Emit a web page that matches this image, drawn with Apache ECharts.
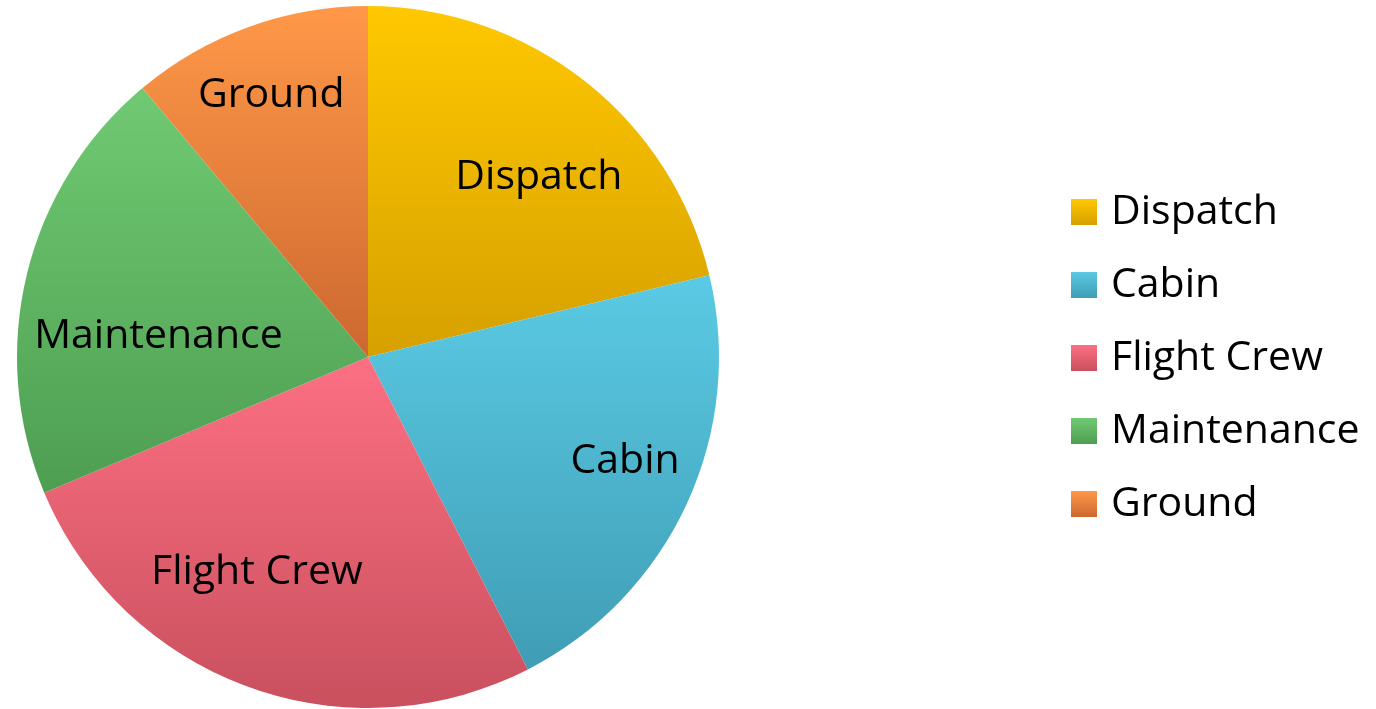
<!DOCTYPE html>
<html>
<head>
<meta charset="utf-8">
<script src="https://cdn.jsdelivr.net/npm/echarts@6/dist/echarts.min.js"></script>
<style>html,body{margin:0;padding:0;background:#fff;}#c{width:1376px;height:709px;}</style>
</head>
<body>
<div id="c"></div>
<script>
const categories = ['Dispatch', 'Cabin', 'Flight Crew', 'Maintenance', 'Ground'];
const values = [21.25, 21.2, 26.2, 20.2, 11.1];
const topColors = ['#FFC800', '#5BCAE4', '#FC7083', '#70CA72', '#FF9848'];
const bottomColors = ['#D6A000', '#3F9DB5', '#C9505E', '#4E9E52', '#CC6830'];

const CX = 368, CY = 357, R = 351;
// label placement (fraction of radius, angle clockwise from top in degrees)
const labelPolar = [[0.707, 43.5], [0.79, 112], [0.69, 207.3], [0.60, 275.7], [0.795, 339.7]];

const grad = (i) => new echarts.graphic.LinearGradient(0, 0, 0, 1, [
  { offset: 0, color: topColors[i] },
  { offset: 1, color: bottomColors[i] }
]);

const chart = echarts.init(document.getElementById('c'));
const FONT = 'Open Sans';
chart.setOption({
  animation: false,
  legend: {
    orient: 'vertical',
    left: 1071,
    top: 184,
    padding: 0,
    itemWidth: 26,
    itemHeight: 26,
    itemGap: 17,
    icon: 'rect',
    selectedMode: false,
    textStyle: { fontFamily: FONT, fontSize: 41, color: '#000', lineHeight: 48, padding: [8, 0, 0, 9] },
    data: categories
  },
  series: [{
    type: 'pie',
    center: [CX, CY],
    radius: R,
    startAngle: 90,
    clockwise: true,
    silent: true,
    label: {
      show: true,
      position: 'inside',
      formatter: '{b}',
      fontFamily: FONT,
      fontSize: 41,
      color: '#000'
    },
    labelLine: { show: false },
    labelLayout: function (p) {
      const lp = labelPolar[p.dataIndex];
      const a = lp[1] * Math.PI / 180;
      return {
        x: CX + R * lp[0] * Math.sin(a),
        y: CY - R * lp[0] * Math.cos(a),
        align: 'center',
        verticalAlign: 'middle'
      };
    },
    data: categories.map((n, i) => ({ name: n, value: values[i], itemStyle: { color: grad(i) } }))
  }]
});
</script>
</body>
</html>
